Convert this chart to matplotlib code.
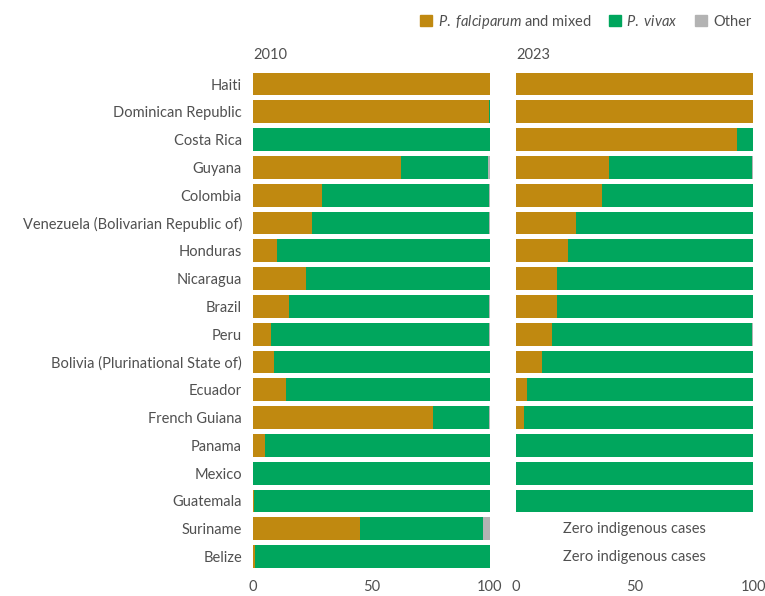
import matplotlib
matplotlib.use("Agg")
import matplotlib.pyplot as plt
from matplotlib.patches import Patch
import numpy as np

plt.rcParams['font.family'] = ['Lato', 'DejaVu Sans']
plt.rcParams['mathtext.fontset'] = 'custom'
plt.rcParams['mathtext.it'] = 'Lato:italic'
plt.rcParams['mathtext.rm'] = 'Lato'

countries = [
    "Haiti", "Dominican Republic", "Costa Rica", "Guyana", "Colombia",
    "Venezuela (Bolivarian Republic of)", "Honduras", "Nicaragua", "Brazil",
    "Peru", "Bolivia (Plurinational State of)", "Ecuador", "French Guiana",
    "Panama", "Mexico", "Guatemala", "Suriname", "Belize",
]

# Share of cases (%) by species, 2010
falc_2010 = [100, 99.6, 0, 62.5, 29.2, 24.9, 10.1, 22.4, 15.2, 7.6, 8.9, 13.9, 76.0, 5.1, 0, 0.3, 45.3, 1.0]
vivax_2010 = [0, 0.4, 100, 36.8, 70.4, 74.7, 89.9, 77.6, 84.4, 92.0, 91.1, 86.1, 23.6, 94.9, 100, 99.7, 51.9, 99.0]
other_2010 = [0, 0, 0, 0.7, 0.4, 0.4, 0, 0, 0.4, 0.4, 0, 0, 0.4, 0, 0, 0, 2.8, 0]

# Share of cases (%) by species, 2023 (None = zero indigenous cases)
falc_2023 = [100, 100, 93.2, 39.2, 36.3, 25.3, 21.9, 17.3, 17.5, 15.2, 11.0, 4.6, 3.4, 0, 0, 0, None, None]
vivax_2023 = [0, 0, 6.8, 60.4, 63.7, 74.7, 78.1, 82.7, 82.5, 84.4, 89.0, 95.4, 96.6, 100, 100, 100, None, None]
other_2023 = [0, 0, 0, 0.4, 0, 0, 0, 0, 0, 0.4, 0, 0, 0, 0, 0, 0, None, None]

years = ["2010", "2023"]
xticks = [0, 50, 100]

C_FALC = "#C08910"
C_VIVAX = "#00A65D"
C_OTHER = "#B3B3B3"
TXT = "#505050"

fig = plt.figure(figsize=(7.65, 5.96), dpi=100)
bottom = 1 - 570.5 / 596
height = 500.4 / 596
ax1 = fig.add_axes([253 / 765, bottom, 237 / 765, height])
ax2 = fig.add_axes([516 / 765, bottom, 237 / 765, height])

y = np.arange(len(countries))
bh = 0.82


def draw(ax, falc, vivax, other, title):
    for i in range(len(countries)):
        if falc[i] is None:
            ax.text(50, y[i], "Zero indigenous cases", ha="center", va="center",
                    fontsize=10.5, color=TXT)
            continue
        ax.barh(y[i], falc[i], height=bh, color=C_FALC, linewidth=0)
        ax.barh(y[i], vivax[i], left=falc[i], height=bh, color=C_VIVAX, linewidth=0)
        ax.barh(y[i], other[i], left=falc[i] + vivax[i], height=bh, color=C_OTHER, linewidth=0)
    ax.set_xlim(0, 100)
    ax.set_ylim(len(countries) - 0.5, -0.5)
    for s in ax.spines.values():
        s.set_visible(False)
    ax.set_xticks(xticks)
    ax.set_xticklabels([str(t) for t in xticks])
    ax.tick_params(axis="x", length=0, pad=7, labelsize=10.5, labelcolor=TXT)
    ax.set_title(title, loc="left", fontsize=10.5, color=TXT, pad=8)


draw(ax1, falc_2010, vivax_2010, other_2010, years[0])
draw(ax2, falc_2023, vivax_2023, other_2023, years[1])

ax1.set_yticks(y)
ax1.set_yticklabels(countries)
ax1.tick_params(axis="y", length=0, pad=8, labelsize=10.5, labelcolor=TXT)
ax2.set_yticks([])

handles = [Patch(color=C_FALC), Patch(color=C_VIVAX), Patch(color=C_OTHER)]
labels = [r"$\mathit{P.\ falciparum}$ and mixed", r"$\mathit{P.\ vivax}$", "Other"]
leg = fig.legend(handles, labels, loc="upper right", bbox_to_anchor=(757 / 765, 1 - 7 / 596),
                 ncol=3, frameon=False, fontsize=10.5, handlelength=0.8, handleheight=0.8,
                 handletextpad=0.4, columnspacing=1.2, borderaxespad=0)
for t in leg.get_texts():
    t.set_color(TXT)

fig.savefig("out.png", dpi=100)
